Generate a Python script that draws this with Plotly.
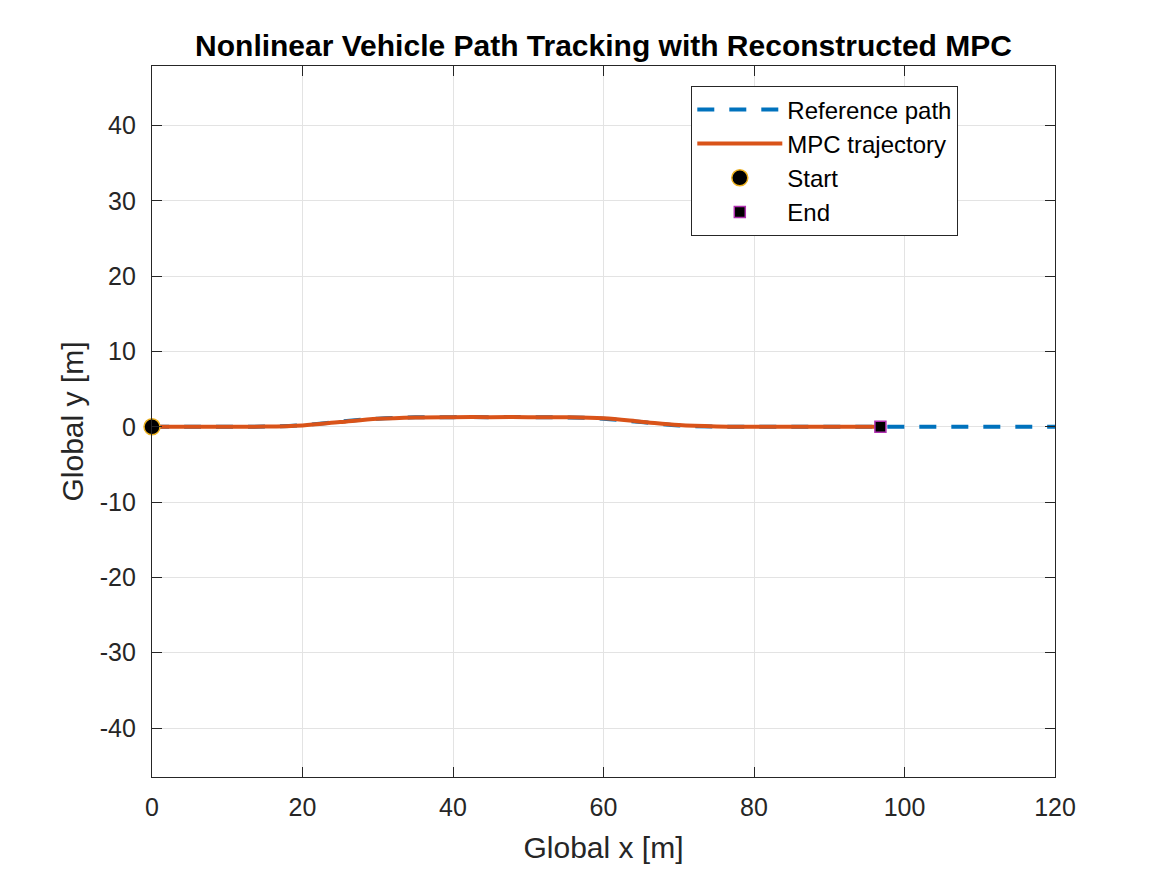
import plotly.graph_objects as go

# reference path (double lane change)
ref_x = [0, 5, 10, 15, 20, 25, 30, 35, 40, 45, 50, 55, 60, 65, 70, 75, 80, 85, 90, 95, 100, 105, 110, 115, 120]
ref_y = [0, 0, 0, 0.03, 0.22, 0.68, 1.08, 1.25, 1.28, 1.28, 1.28, 1.25, 1.08, 0.62, 0.18, 0.02, 0, 0, 0, 0, 0, 0, 0, 0, 0]

# MPC trajectory, stops at the end point
mpc_x = [0, 5, 10, 15, 20, 25, 30, 35, 40, 45, 50, 55, 60, 65, 70, 75, 80, 85, 90, 95, 96.8]
mpc_y = [0, 0, 0, 0.02, 0.18, 0.62, 1.05, 1.24, 1.28, 1.28, 1.28, 1.26, 1.12, 0.68, 0.22, 0.04, 0, 0, 0, 0, 0]

start_pt = (0, 0)
end_pt = (96.8, 0)

x_ticks = [0, 20, 40, 60, 80, 100, 120]
y_ticks = [-40, -30, -20, -10, 0, 10, 20, 30, 40]

FONT = "Liberation Sans, Arial, sans-serif"
AX_COL = "#262626"

fig = go.Figure()
fig.add_trace(go.Scatter(x=ref_x, y=ref_y, mode="lines", name="Reference path",
                         line=dict(color="#0072BD", width=4, dash="17px,15px", shape="spline")))
fig.add_trace(go.Scatter(x=mpc_x, y=mpc_y, mode="lines", name="MPC trajectory",
                         line=dict(color="#D95319", width=4, shape="spline")))
fig.add_trace(go.Scatter(x=[start_pt[0]], y=[start_pt[1]], mode="markers", name="Start",
                         cliponaxis=False,
                         marker=dict(symbol="circle", size=16, color="black",
                                     line=dict(color="#EDB120", width=1.5))))
fig.add_trace(go.Scatter(x=[end_pt[0]], y=[end_pt[1]], mode="markers", name="End",
                         cliponaxis=False,
                         marker=dict(symbol="square", size=11, color="black",
                                     line=dict(color="#B030B0", width=1.5))))

axis_common = dict(
    showgrid=True, gridcolor="#e3e3e3", gridwidth=1,
    zeroline=False, showline=True, linecolor=AX_COL, linewidth=1.3, mirror="ticks",
    ticks="inside", ticklen=10, tickcolor=AX_COL, tickwidth=1,
    tickfont=dict(family=FONT, size=25, color=AX_COL),
)

fig.update_xaxes(range=[0, 120], tickvals=x_ticks, ticktext=[str(v) for v in x_ticks],
                 ticklabelstandoff=8,
                 title=dict(text="Global x [m]", font=dict(family=FONT, size=30, color=AX_COL), standoff=16),
                 **axis_common)
fig.update_yaxes(range=[-46.5, 47.9], tickvals=y_ticks, ticktext=[str(v) for v in y_ticks],
                 ticklabelstandoff=10,
                 title=dict(text="Global y [m]", font=dict(family=FONT, size=30, color=AX_COL), standoff=7),
                 **axis_common)

# page adds an 8px body margin, so margins are shifted back by 8
fig.update_layout(
    width=1167, height=875,
    margin=dict(l=144, r=120, t=58, b=106),
    plot_bgcolor="white", paper_bgcolor="white",
    title=dict(text="<b>Nonlinear Vehicle Path Tracking with Reconstructed MPC</b>",
               x=(144 + 451.5) / 1167, xanchor="center", y=1 - 37 / 875, yanchor="middle",
               font=dict(family=FONT, size=30, color="black")),
    legend=dict(x=(683 - 144) / 903, y=1 - (78 - 58) / 711, xanchor="left", yanchor="top",
                bgcolor="white", bordercolor=AX_COL, borderwidth=1.3,
                font=dict(family=FONT, size=24, color="black"),
                itemwidth=85, tracegroupgap=0),
    showlegend=True,
)

fig.write_html("out.html")
